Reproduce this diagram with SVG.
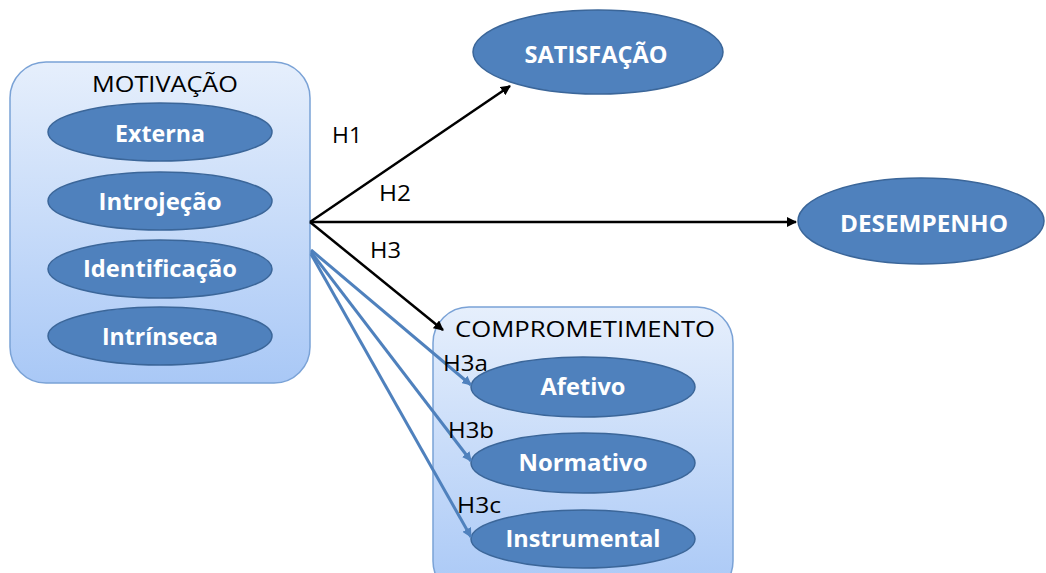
<svg xmlns="http://www.w3.org/2000/svg" width="1046" height="573" viewBox="0 0 1046 573">
  <defs>
    <linearGradient id="boxFill" x1="0" y1="0" x2="0" y2="1">
      <stop offset="0" stop-color="#e6effc"/>
      <stop offset="1" stop-color="#a9c8f6"/>
    </linearGradient>
    <marker id="arrBlack" viewBox="0 0 10 10" refX="9" refY="5" markerWidth="4" markerHeight="4" orient="auto" markerUnits="strokeWidth">
      <path d="M0,0 L10,5 L0,10 z" fill="#000"/>
    </marker>
    <marker id="arrBlue" viewBox="0 0 10 10" refX="9" refY="5" markerWidth="3.2" markerHeight="3.2" orient="auto" markerUnits="strokeWidth">
      <path d="M0,0 L10,5 L0,10 z" fill="#4f81bd"/>
    </marker>
  </defs>
  <style>
    .box { fill: url(#boxFill); stroke: #7aa2d6; stroke-width: 1.5; }
    .ell { fill: #4f81bd; stroke: #3b6699; stroke-width: 1.5; }
    .lbl { font-family: "Open Sans", Lato, sans-serif; font-weight: bold; font-size: 23px; fill: #fff; text-anchor: middle; }
    .title { font-family: "Open Sans", Lato, sans-serif; font-size: 21px; fill: #000; text-anchor: middle; }
    .hyp { font-family: "Open Sans", Lato, sans-serif; font-size: 22px; fill: #000; }
    .blk { stroke: #000; stroke-width: 2.5; fill: none; marker-end: url(#arrBlack); }
    .blu { stroke: #4f81bd; stroke-width: 3; fill: none; marker-end: url(#arrBlue); }
  </style>

  <g id="motivacao">
    <rect class="box" x="10" y="62" width="300" height="321" rx="36"/>
    <text class="title" x="165" y="92" textLength="146" lengthAdjust="spacingAndGlyphs">MOTIVAÇÃO</text>
    <ellipse class="ell" cx="160" cy="132" rx="112" ry="29"/>
    <text class="lbl" x="160" y="142" textLength="90" lengthAdjust="spacingAndGlyphs">Externa</text>
    <ellipse class="ell" cx="160" cy="201" rx="112" ry="29"/>
    <text class="lbl" x="160" y="210" textLength="123" lengthAdjust="spacingAndGlyphs">Introjeção</text>
    <ellipse class="ell" cx="160" cy="269" rx="112" ry="29"/>
    <text class="lbl" x="160" y="277" textLength="154" lengthAdjust="spacingAndGlyphs">Identificação</text>
    <ellipse class="ell" cx="160" cy="336" rx="112" ry="29"/>
    <text class="lbl" x="160" y="345" textLength="116" lengthAdjust="spacingAndGlyphs">Intrínseca</text>
  </g>

  <g id="satisfacao">
    <ellipse class="ell" cx="598" cy="52" rx="125" ry="42"/>
    <text class="lbl" x="596" y="63" textLength="143" lengthAdjust="spacingAndGlyphs">SATISFAÇÃO</text>
  </g>

  <g id="desempenho">
    <ellipse class="ell" cx="921" cy="221" rx="123" ry="43"/>
    <text class="lbl" x="924" y="232" textLength="168" lengthAdjust="spacingAndGlyphs">DESEMPENHO</text>
  </g>

  <g id="comprometimento">
    <rect class="box" x="433" y="307" width="300" height="290" rx="36"/>
    <text class="title" x="585" y="337" textLength="260" lengthAdjust="spacingAndGlyphs">COMPROMETIMENTO</text>
    <ellipse class="ell" cx="583" cy="387" rx="112" ry="30"/>
    <text class="lbl" x="583" y="395" textLength="85" lengthAdjust="spacingAndGlyphs">Afetivo</text>
    <ellipse class="ell" cx="583" cy="463" rx="112" ry="30"/>
    <text class="lbl" x="583" y="471" textLength="129" lengthAdjust="spacingAndGlyphs">Normativo</text>
    <ellipse class="ell" cx="583" cy="539" rx="112" ry="29"/>
    <text class="lbl" x="583" y="547" textLength="155" lengthAdjust="spacingAndGlyphs">Instrumental</text>
  </g>

  <g id="connectors">
    <line class="blk" x1="310" y1="222" x2="510" y2="86"/>
    <line class="blk" x1="310" y1="222" x2="796" y2="222"/>
    <line class="blk" x1="310" y1="222" x2="443" y2="330"/>
    <line class="blu" x1="311" y1="250" x2="471" y2="385"/>
    <line class="blu" x1="311" y1="252" x2="471" y2="461"/>
    <line class="blu" x1="311" y1="254" x2="471" y2="537"/>
  </g>

  <g id="labels">
    <text class="hyp" x="332" y="143" textLength="30" lengthAdjust="spacingAndGlyphs">H1</text>
    <text class="hyp" x="379" y="201" textLength="32" lengthAdjust="spacingAndGlyphs">H2</text>
    <text class="hyp" x="370" y="258" textLength="31" lengthAdjust="spacingAndGlyphs">H3</text>
    <text class="hyp" x="443" y="371" textLength="45" lengthAdjust="spacingAndGlyphs">H3a</text>
    <text class="hyp" x="448" y="438" textLength="46" lengthAdjust="spacingAndGlyphs">H3b</text>
    <text class="hyp" x="457" y="513" textLength="44" lengthAdjust="spacingAndGlyphs">H3c</text>
  </g>
</svg>
